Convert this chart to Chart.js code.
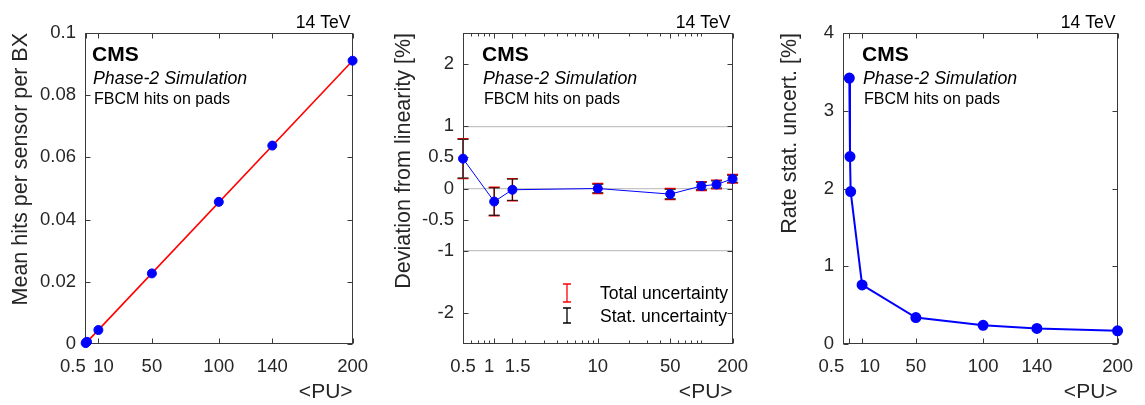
<!DOCTYPE html>
<html>
<head>
<meta charset="utf-8">
<script src="https://cdn.jsdelivr.net/npm/chart.js@4.4.1/dist/chart.umd.min.js"></script>
<style>
  body { margin: 0; background: #fff; }
  #wrap { position: relative; width: 1145px; height: 405px; }
  .panel { position: absolute; top: 0; height: 405px; }
</style>
</head>
<body>
<div id="wrap">
  <div class="panel" style="left:0;width:380px"><canvas id="hitsChart"></canvas></div>
  <div class="panel" style="left:380px;width:380px"><canvas id="devChart"></canvas></div>
  <div class="panel" style="left:760px;width:385px"><canvas id="rateChart"></canvas></div>
</div>
<script>
// values
const puValues = [0.5, 1, 1.5, 10, 50, 100, 140, 200];
const meanHits = [0.0003, 0.0005, 0.0007, 0.0045, 0.0227, 0.0457, 0.0638, 0.0911];
const fitPU = [0.5, 200];
const fitHits = [0.0002, 0.0911];
const devValues = [0.48, -0.21, -0.02, 0.0, -0.09, 0.04, 0.065, 0.155];
const devTotalErr = [0.32, 0.23, 0.18, 0.08, 0.09, 0.072, 0.07, 0.07];
const devStatErr = [0.31, 0.22, 0.17, 0.065, 0.075, 0.058, 0.056, 0.056];
const rateStatErr = [3.42, 2.41, 1.96, 0.76, 0.34, 0.24, 0.20, 0.17];

const linTickValues = [0.5, 10, 50, 100, 140, 200];
const linTickLabels = ['0.5', '10', '50', '100', '140', '200'];
const logTickValues = [0.5, 1, 1.5, 10, 50, 200];
const logTickLabels = ['0.5', '1', '1.5', '10', '50', '200'];
const hitsTickValues = [0, 0.02, 0.04, 0.06, 0.08, 0.1];
const hitsTickLabels = ['0', '0.02', '0.04', '0.06', '0.08', '0.1'];
const devTickValues = [-2, -1, -0.5, 0, 0.5, 1, 2];
const devTickLabels = ['-2', '-1', '-0.5', '0', '0.5', '1', '2'];
const rateTickValues = [0, 1, 2, 3, 4];
const rateTickLabels = ['0', '1', '2', '3', '4'];

const FONT = "'Liberation Sans', Arial, Helvetica, sans-serif";
Chart.defaults.font.family = FONT;
Chart.defaults.color = '#262626';
Chart.defaults.animation = false;

function to_points(xs, ys) {
    return xs.map((x, i) => ({ x: x, y: ys[i] }));
}

// spaces push a tick label sideways, like the hand-spread labels in the original
function pad_label(text, n) {
    return n > 0 ? ' '.repeat(n) + text : text + ' '.repeat(-n);
}

function draw_errbar(ctx, x, y1, y2, half) {
    ctx.beginPath();
    ctx.moveTo(x, y1); ctx.lineTo(x, y2);
    ctx.moveTo(x - half, y1); ctx.lineTo(x + half, y1);
    ctx.moveTo(x - half, y2); ctx.lineTo(x + half, y2);
    ctx.stroke();
}

const panelDecor = {
    id: 'panelDecor',
    beforeDatasetsDraw(chart, args, opts) {
        const { ctx, chartArea: a, scales } = chart;
        const xs = scales.x, ys = scales.y;
        ctx.save();

        if (opts.errors) {
            const e = opts.errors;
            ctx.lineWidth = 1.3;
            ctx.strokeStyle = '#ff0000';
            e.x.forEach((x, i) => {
                const px = xs.getPixelForValue(x);
                draw_errbar(ctx, px, ys.getPixelForValue(e.y[i] + e.total[i]), ys.getPixelForValue(e.y[i] - e.total[i]), 5.5);
            });
            ctx.strokeStyle = 'rgba(0,0,0,0.72)';
            e.x.forEach((x, i) => {
                const px = xs.getPixelForValue(x);
                draw_errbar(ctx, px, ys.getPixelForValue(e.y[i] + e.stat[i]), ys.getPixelForValue(e.y[i] - e.stat[i]), 5.5);
            });
        }

        // box and inward ticks
        ctx.strokeStyle = '#3a3a3a';
        ctx.lineWidth = 1;
        const L = Math.round(a.left) + 0.5, R = Math.round(a.right) - 0.5;
        const T = Math.round(a.top) + 0.5, B = Math.round(a.bottom) - 0.5;
        ctx.strokeRect(L, T, R - L, B - T);
        ctx.beginPath();
        xs.ticks.forEach(t => {
            const px = Math.round(xs.getPixelForValue(t.value)) + 0.5;
            ctx.moveTo(px, B); ctx.lineTo(px, B - 5);
            ctx.moveTo(px, T); ctx.lineTo(px, T + 5);
        });
        ys.ticks.forEach(t => {
            const py = Math.round(ys.getPixelForValue(t.value)) + 0.5;
            ctx.moveTo(L, py); ctx.lineTo(L + 5, py);
            ctx.moveTo(R, py); ctx.lineTo(R - 5, py);
        });
        if (opts.minorLog) {
            const major = xs.ticks.map(t => t.value);
            for (let d = 0.1; d <= 100; d *= 10) {
                for (let m = 1; m <= 9; m++) {
                    const v = +(m * d).toPrecision(3);
                    if (v <= xs.min || v >= xs.max || major.includes(v)) continue;
                    const px = Math.round(xs.getPixelForValue(v)) + 0.5;
                    ctx.moveTo(px, B); ctx.lineTo(px, B - 3);
                    ctx.moveTo(px, T); ctx.lineTo(px, T + 3);
                }
            }
        }
        ctx.stroke();
        ctx.restore();
    },
    afterDraw(chart, args, opts) {
        const { ctx, chartArea: a } = chart;
        ctx.save();
        ctx.fillStyle = '#000';
        ctx.textBaseline = 'middle';

        ctx.textAlign = 'right';
        ctx.font = '17.6px ' + FONT;
        ctx.fillText('14 TeV', a.right - 2, 23);

        ctx.textAlign = 'left';
        const tx = a.left + opts.textLeft;
        ctx.font = 'bold 21px ' + FONT;
        ctx.fillText('CMS', tx, 55);
        ctx.font = 'italic 17.8px ' + FONT;
        ctx.fillText('Phase-2 Simulation', tx + 1, 79);
        ctx.font = '16px ' + FONT;
        ctx.fillText('FBCM hits on pads', tx + 2, 100);

        if (opts.errors) {
            const sx = a.left + 104;
            ctx.lineWidth = 1.3;
            ctx.strokeStyle = '#ff0000';
            draw_errbar(ctx, sx, a.top + 251, a.top + 269, 4);
            ctx.strokeStyle = '#000';
            draw_errbar(ctx, sx, a.top + 275, a.top + 290, 4);
            ctx.font = '17.6px ' + FONT;
            ctx.fillText('Total uncertainty', a.left + 137, a.top + 261);
            ctx.fillText('Stat. uncertainty', a.left + 137, a.top + 284);
        }
        ctx.restore();
    }
};
Chart.register(panelDecor);

function x_axis(type, min, max, values, labels, shifts) {
    return {
        type: type,
        min: min,
        max: max,
        afterBuildTicks: s => { s.ticks = values.map(v => ({ value: v })); },
        afterFit: s => { s.height = 61; },
        grid: { display: false, drawTicks: false },
        border: { display: false },
        ticks: {
            autoSkip: false,
            maxRotation: 0,
            padding: 12,
            color: '#262626',
            font: { size: 18.5 },
            callback: (v, i) => pad_label(labels[i], shifts[i])
        },
        title: {
            display: true,
            text: '<PU>',
            align: 'end',
            color: '#262626',
            font: { size: 21 },
            padding: { top: 0, bottom: 0 }
        }
    };
}

function y_axis(min, max, values, labels, title, titlePad, width, grid) {
    return {
        min: min,
        max: max,
        afterBuildTicks: s => { s.ticks = values.map(v => ({ value: v })); },
        afterFit: s => { s.width = width; },
        grid: grid || { display: false, drawTicks: false },
        border: { display: false },
        ticks: {
            padding: 9,
            color: '#262626',
            font: { size: 18.5 },
            callback: (v, i) => labels[i]
        },
        title: {
            display: true,
            text: title,
            align: 'end',
            color: '#262626',
            font: { size: 21.5 },
            padding: { top: titlePad, bottom: 0 }
        }
    };
}

const hitsChart = new Chart(document.getElementById('hitsChart'), {
    type: 'scatter',
    data: {
        datasets: [{
            label: 'Mean hits',
            data: to_points(puValues, meanHits),
            backgroundColor: '#0000ff',
            borderColor: '#0000ff',
            pointRadius: 4.5,
            order: 0
        }, {
            label: 'Linear fit',
            data: to_points(fitPU, fitHits),
            showLine: true,
            borderColor: '#ff0000',
            borderWidth: 1.6,
            pointRadius: 0,
            order: 1
        }]
    },
    options: {
        responsive: true,
        maintainAspectRatio: false,
        clip: false,
        layout: { padding: { left: 0, right: 9, top: 33, bottom: 0 } },
        plugins: {
            legend: { display: false },
            tooltip: { enabled: false },
            panelDecor: { textLeft: 7 }
        },
        scales: {
            x: x_axis('linear', 0, 200, linTickValues, linTickLabels, [-5, 2, 0, 0, 0, 0]),
            y: y_axis(0, 0.1, hitsTickValues, hitsTickLabels, 'Mean hits per sensor per BX', 8, 85)
        }
    }
});

const devChart = new Chart(document.getElementById('devChart'), {
    type: 'scatter',
    data: {
        datasets: [{
            label: 'Deviation',
            data: to_points(puValues, devValues),
            showLine: true,
            borderColor: '#0000ff',
            backgroundColor: '#0000ff',
            borderWidth: 1,
            pointRadius: 4.5
        }]
    },
    options: {
        responsive: true,
        maintainAspectRatio: false,
        clip: false,
        layout: { padding: { left: 0, right: 10, top: 33, bottom: 0 } },
        plugins: {
            legend: { display: false },
            tooltip: { enabled: false },
            panelDecor: {
                textLeft: 19,
                minorLog: true,
                errors: { x: puValues, y: devValues, total: devTotalErr, stat: devStatErr }
            }
        },
        scales: {
            x: x_axis('logarithmic', 0.5, 200, logTickValues, logTickLabels, [0, -2, 2, 0, 0, 0]),
            y: y_axis(-2.5, 2.5, devTickValues, devTickLabels, 'Deviation from linearity [%]', 11, 83, {
                drawTicks: false,
                lineWidth: 1.2,
                color: c => [-1, 0, 1].includes(c.tick.value) ? '#c4c4c4' : 'rgba(0,0,0,0)'
            })
        }
    }
});

const rateChart = new Chart(document.getElementById('rateChart'), {
    type: 'scatter',
    data: {
        datasets: [{
            label: 'Rate stat. uncert.',
            data: to_points(puValues, rateStatErr),
            showLine: true,
            borderColor: '#0000ff',
            backgroundColor: '#0000ff',
            borderWidth: 2,
            pointRadius: 4.5
        }]
    },
    options: {
        responsive: true,
        maintainAspectRatio: false,
        clip: false,
        layout: { padding: { left: 0, right: 17, top: 33, bottom: 0 } },
        plugins: {
            legend: { display: false },
            tooltip: { enabled: false },
            panelDecor: { textLeft: 19 }
        },
        scales: {
            x: x_axis('linear', -4.2, 200, linTickValues, linTickLabels, [-7, 3, 0, 0, 0, 0]),
            y: y_axis(0, 4, rateTickValues, rateTickLabels, 'Rate stat. uncert. [%]', 17, 83)
        }
    }
});
</script>
</body>
</html>
